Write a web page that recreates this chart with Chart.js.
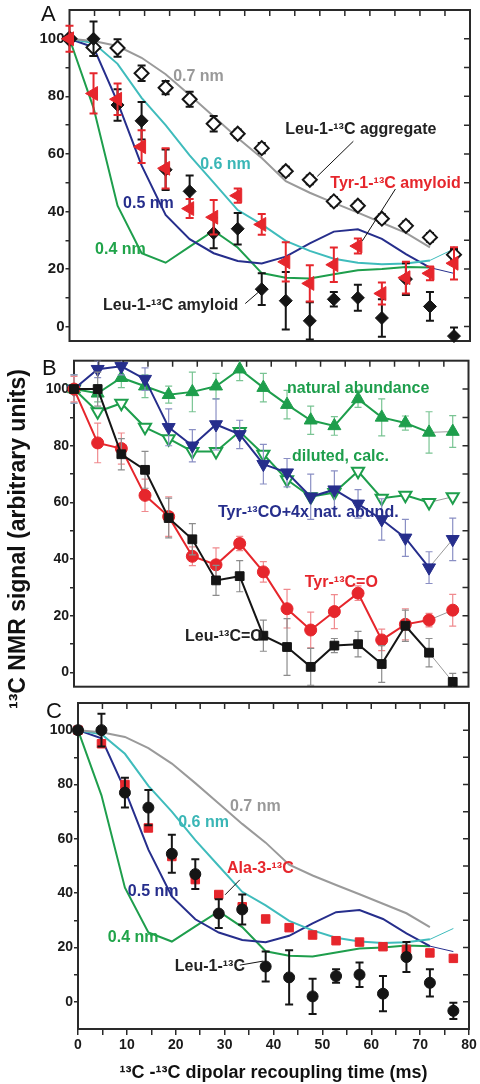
<!DOCTYPE html>
<html><head><meta charset="utf-8">
<script src="https://cdn.jsdelivr.net/npm/chart.js@4.4.1/dist/chart.umd.min.js"></script>
<style>
html,body{margin:0;padding:0;background:#fff;}
#wrap{position:relative;width:480px;height:1084px;}
canvas{position:absolute;left:0;top:0;}
</style></head><body>
<div id="wrap">
<canvas id="cA" width="480" height="1084"></canvas>
<canvas id="cB" width="480" height="1084"></canvas>
<canvas id="cC" width="480" height="1084"></canvas>
</div>
<script>
// ---------- data ----------
const timeMs = [0,4.8,9.6,14.4,19.2,24,28.8,33.6,38.4,43.2,48,52.8,57.6,62.4,67.2,72,76.8];
const leuAmyloid = [100,100,77,71.5,54.5,47,32.5,34,13,9,2,9.5,10,3,16.5,7,-3.3];
const leuErr     = [0,6,5.5,6.5,7,5.5,5.3,5.5,5.5,10,6.5,2.5,4.5,6.5,5.5,5,3];
const tyrAmyloid = [100,81,79,62.5,55,41,38,45.5,35.5,22.5,15,21.5,28,11.5,17,18.5,22];
const tyrErr     = [4.5,7,5.5,5.7,7,3.3,6,2.5,3.6,6.8,6.3,6,2.6,3.8,5.5,2.4,5.6];
const leuAggregate = [100,97,96.8,88,83,79,70.5,67,62,54,51,43.5,42,37.5,35,31,25];
const aggErr       = [0,3,3,2.7,2.3,2.6,2.7,1.5,1.8,1.5,1.5,1.5,1.5,1.5,1.5,1.5,2];
const sim07nm = [100,99.2,97.5,93.4,87.7,80.5,73,65.5,58.6,50.5,46.5,43,39.6,36.1,32.6,27.5,null];
const sim06nm = [100,98.5,91.3,79.5,70,59.5,50,40.5,35.5,29.8,26.3,23.6,22.2,21.7,21.9,23,27];
const sim05nm = [100,97,78,56,38.8,30.4,25.5,22.8,21.9,24.3,28.9,33,33.8,30.5,25.2,20.5,18.5];
const sim04nm = [100,76,42,25.5,22.2,27.8,33.3,27.5,18.6,17,16.7,18.2,19.6,20,20.7,20.5,null];
const natAbund    = [100,98.5,104,101,98,99,101,107,100.5,94.5,89,87,96.5,90,88,84.7,85];
const natErr      = [5,3,3.5,4,3,7,4.5,4,5,5,5,3.3,3,6.5,2.5,7.3,5.6];
const dilutedCalc = [100,92,95,86.5,82.5,78,78,85,77,68,62,63.5,71,61.5,62.5,60,62];
const tyrPlusNat  = [100,107,108,103.5,86.5,80,87.5,84,73.5,70.5,62,64.5,59.5,54,47.5,37,47];
const tyrPlusErr  = [5,3,3,4,6.5,5.7,9,5,7,5,8,6.6,5,7.3,6.5,5.6,7.5];
const alaData     = [100,95,80,64,53.5,45,39.5,35,30.5,27.3,24.6,22.5,22,20.3,19.3,18,16];
const yTicks = [0,10,20,30,40,50,60,70,80,90,100];
const xTicks = [0,5,10,15,20,25,30,35,40,45,50,55,60,65,70,75,80];

const FONT = '"Liberation Sans", Arial, Helvetica, sans-serif';
const C_GRAY='#9a9a9a', C_CYAN='#3fbcbc', C_NAVY='#262e8c', C_GREEN='#1e9e4c', C_RED='#e6262c', C_BLACK='#151515';

const pts = vals => timeMs.map((t,i)=>({x:t,y:vals[i]}));

// ---------- plugins ----------
const errPlugin = {
  id:'errbars',
  beforeDatasetDraw(chart,args){
    const ds = chart.data.datasets[args.index];
    if(!ds.errors) return;
    const xs=chart.scales.x, ys=chart.scales.y, ca=chart.chartArea, ctx=chart.ctx;
    ctx.save();
    ctx.beginPath(); ctx.rect(ca.left-12, ca.top, ca.right-ca.left+24, ca.bottom-ca.top); ctx.clip();
    ctx.strokeStyle = ds.errColor; ctx.lineWidth = ds.errWidth;
    const c = ds.errCap;
    ds.data.forEach((p,i)=>{
      const e = ds.errors[i]; if(!e || p.y==null) return;
      const x=xs.getPixelForValue(p.x), y1=ys.getPixelForValue(p.y+e), y2=ys.getPixelForValue(p.y-e);
      ctx.beginPath();
      ctx.moveTo(x,y1); ctx.lineTo(x,y2);
      ctx.moveTo(x-c,y1); ctx.lineTo(x+c,y1);
      ctx.moveTo(x-c,y2); ctx.lineTo(x+c,y2);
      ctx.stroke();
    });
    ctx.restore();
  }
};
const framePlugin = {
  id:'frame',
  beforeDatasetsDraw(chart){
    const {ctx, chartArea:ca} = chart, xs=chart.scales.x, ys=chart.scales.y;
    ctx.save();
    ctx.strokeStyle='#2a2a2a'; ctx.lineWidth=2;
    ctx.strokeRect(ca.left, ca.top, ca.right-ca.left, ca.bottom-ca.top);
    ctx.lineWidth=1.5;
    ctx.beginPath();
    xTicks.slice(1,-1).forEach(t=>{const x=xs.getPixelForValue(t); ctx.moveTo(x,ca.top); ctx.lineTo(x,ca.top+6);});
    yTicks.forEach(v=>{const y=ys.getPixelForValue(v); ctx.moveTo(ca.right,y); ctx.lineTo(ca.right-6,y);});
    ctx.stroke();
    ctx.restore();
  }
};
function notesPlugin(notes, lines, extra){
  return {
    id:'notes',
    afterDraw(chart){
      const ctx=chart.ctx, xs=chart.scales.x, ys=chart.scales.y;
      ctx.save();
      ctx.strokeStyle='#111'; ctx.lineWidth=1;
      lines.forEach(l=>{ctx.beginPath(); ctx.moveTo(xs.getPixelForValue(l[0]),ys.getPixelForValue(l[1])); ctx.lineTo(xs.getPixelForValue(l[2]),ys.getPixelForValue(l[3])); ctx.stroke();});
      ctx.textAlign='left'; ctx.textBaseline='middle';
      notes.forEach(n=>{ctx.font='bold 16px '+FONT; ctx.fillStyle=n.c; ctx.fillText(n.t, xs.getPixelForValue(n.x), ys.getPixelForValue(n.y));});
      if(extra) extra(ctx);
      ctx.restore();
    }
  };
}
function panelLetter(letter,x,y){ return ctx=>{ctx.font='22px '+FONT; ctx.fillStyle='#111'; ctx.textAlign='left'; ctx.textBaseline='alphabetic'; ctx.fillText(letter,x,y);}; }

function yScale(width,fs){
  return {
    type:'linear', min:-5, max:110,
    afterBuildTicks: a=>{a.ticks = yTicks.map(v=>({value:v}));},
    afterFit: s=>{s.width=width;},
    ticks:{autoSkip:false, callback:v=> v%20===0 ? String(v) : '', color:'#1a1a1a', font:{family:FONT,size:fs||14,weight:'bold'}, padding:1},
    grid:{display:true, drawOnChartArea:false, drawTicks:true, tickLength:4, color:'#2a2a2a', lineWidth:1.5},
    border:{display:false}
  };
}
const baseOpts = (pad, scales) => ({
  responsive:false, animation:false, devicePixelRatio:1, events:[],
  layout:{padding:pad},
  plugins:{legend:{display:false}, tooltip:{enabled:false}},
  scales
});
const sim = (vals,color,label,thinLast) => ({
  label, data:pts(vals), showLine:true, borderColor:color, borderWidth:2, pointRadius:0, order:10, clip:false,
  segment: thinLast ? {borderWidth: c=> c.p1DataIndex===timeMs.length-1 ? 1 : 2} : undefined
});
const simSets = () => [
  sim(sim07nm,C_GRAY,'0.7 nm',false),
  sim(sim06nm,C_CYAN,'0.6 nm',true),
  sim(sim05nm,C_NAVY,'0.5 nm',true),
  sim(sim04nm,C_GREEN,'0.4 nm',false)
];

// ---------- Panel A ----------
new Chart(document.getElementById('cA'), {
  type:'scatter',
  data:{datasets:[
    {label:'Leu-1-13C aggregate', data:pts(leuAggregate), pointStyle:'rectRot', pointRadius:7, backgroundColor:'#fff', borderColor:C_BLACK, borderWidth:2, order:3, clip:false,
     errors:aggErr, errColor:C_BLACK, errWidth:2, errCap:4},
    {label:'Leu-1-13C amyloid', data:pts(leuAmyloid), pointStyle:'rectRot', pointRadius:6.5, backgroundColor:C_BLACK, borderColor:C_BLACK, borderWidth:1, order:2, clip:false,
     errors:leuErr, errColor:C_BLACK, errWidth:2, errCap:4},
    {label:'Tyr-1-13C amyloid', data:pts(tyrAmyloid), pointStyle:'triangle', rotation:270, pointRadius:8, backgroundColor:C_RED, borderColor:C_RED, borderWidth:1, order:1, clip:false,
     errors:tyrErr, errColor:C_RED, errWidth:2, errCap:4},
    ...simSets()
  ]},
  options: baseOpts({left:0,right:10,top:7.3,bottom:743}, {
    x:{type:'linear',min:0,max:80,display:false},
    y:yScale(69.5,15)
  }),
  plugins:[framePlugin, errPlugin, notesPlugin([
    {t:'0.7 nm', x:20.7, y:86.9, c:'#999'},
    {t:'0.6 nm', x:26.1, y:56.4, c:'#3ab6b6'},
    {t:'0.5 nm', x:10.7, y:42.6, c:C_NAVY},
    {t:'0.4 nm', x:5.1, y:26.6, c:'#20a44a'},
    {t:'Leu-1-\u00B9\u00B3C aggregate', x:43.1, y:68.5, c:'#222'},
    {t:'Tyr-1-\u00B9\u00B3C amyloid', x:52.1, y:49.8, c:C_RED},
    {t:'Leu-1-\u00B9\u00B3C amyloid', x:6.7, y:7.3, c:'#222'}
  ],[
    [56.7,64.4,49.5,52.2],
    [65.1,47.8,58.5,29.8],
    [35.1,8,38.5,13.1]
  ], panelLetter('A',41,21))]
});

// ---------- Panel B ----------
const dataLine = (vals,label,style,rot,r,fill,color,errs,errColor,order) => ({
  label, data:pts(vals), showLine:true, borderColor:color, borderWidth:2,
  pointStyle:style, rotation:rot, pointRadius:r, pointBackgroundColor:fill, pointBorderColor:color, pointBorderWidth:fill==='#fff'?2:1,
  order, clip:false,
  segment:{borderWidth:c=> c.p1DataIndex===timeMs.length-1 ? 1 : 2, borderColor:c=> c.p1DataIndex===timeMs.length-1 ? '#999' : color},
  errors:errs, errColor, errWidth:1.2, errCap:3.5
});
new Chart(document.getElementById('cB'), {
  type:'scatter',
  data:{datasets:[
    dataLine(natAbund,'natural abundance','triangle',0,7.5,C_GREEN,C_GREEN,natErr,'#79c493',5),
    dataLine(dilutedCalc,'diluted, calc.','triangle',180,7,'#fff',C_GREEN,null,null,4),
    dataLine(tyrPlusNat,'Tyr-13CO+4x nat. abund.','triangle',180,7.5,C_NAVY,C_NAVY,tyrPlusErr,'#8a8fc4',3),
    dataLine(tyrAmyloid,'Tyr-13C=O','circle',0,6,C_RED,C_RED,tyrErr,'#f08a8e',2),
    dataLine(leuAmyloid,'Leu-13C=O','rect',0,6.2,C_BLACK,C_BLACK,leuErr,'#8c8c8c',1)
  ]},
  options: baseOpts({left:0,right:11.5,top:360.7,bottom:397.3}, {
    x:{type:'linear',min:0,max:80,display:false},
    y:yScale(74)
  }),
  plugins:[framePlugin, errPlugin, notesPlugin([
    {t:'natural abundance', x:43.2, y:100.1, c:C_GREEN},
    {t:'diluted, calc.', x:44.2, y:76.2, c:C_GREEN},
    {t:'Tyr-\u00B9\u00B3CO+4x nat. abund.', x:29.2, y:56.4, c:C_NAVY},
    {t:'Tyr-\u00B9\u00B3C=O', x:46.8, y:31.8, c:C_RED},
    {t:'Leu-\u00B9\u00B3C=O', x:22.5, y:12.8, c:'#222'}
  ],[], ctx=>{
    panelLetter('B',42,375)(ctx);
    ctx.save();
    ctx.translate(19,539); ctx.rotate(-Math.PI/2);
    ctx.font='bold 23px '+FONT; ctx.fillStyle='#111'; ctx.textAlign='center'; ctx.textBaseline='middle';
    ctx.fillText('\u00B9\u00B3C NMR signal (arbitrary units)',0,0);
    ctx.restore();
  })]
});

// ---------- Panel C ----------
new Chart(document.getElementById('cC'), {
  type:'scatter',
  data:{datasets:[
    {label:'Leu-1-13C', data:pts(leuAmyloid), pointStyle:'circle', pointRadius:5.5, backgroundColor:C_BLACK, borderColor:C_BLACK, borderWidth:1, order:1, clip:false,
     errors:leuErr, errColor:C_BLACK, errWidth:2, errCap:4},
    {label:'Ala-3-13C', data:pts(alaData), pointStyle:'rect', pointRadius:6, backgroundColor:C_RED, borderColor:C_RED, borderWidth:1, order:2, clip:false},
    ...simSets()
  ]},
  options: baseOpts({left:0,right:11,top:703,bottom:0}, {
    x:{type:'linear',min:0,max:80,
       afterBuildTicks:a=>{a.ticks = xTicks.map(v=>({value:v}));},
       afterFit:s=>{s.height=55;},
       ticks:{autoSkip:false, maxRotation:0, callback:v=> v%10===0 ? String(v) : '', color:'#1a1a1a', font:{family:FONT,size:14,weight:'bold'}, padding:2},
       grid:{display:true, drawOnChartArea:false, drawTicks:true, tickLength:6, color:'#2a2a2a', lineWidth:1.5},
       border:{display:false},
       title:{display:true, text:'\u00B9\u00B3C -\u00B9\u00B3C dipolar recoupling time (ms)', color:'#111', font:{family:FONT,size:18,weight:'bold'}, padding:{top:0,bottom:0}}
    },
    y:Object.assign(yScale(78), {min:-10, max:110})
  }),
  plugins:[framePlugin, errPlugin, notesPlugin([
    {t:'0.7 nm', x:31.1, y:71.8, c:'#999'},
    {t:'0.6 nm', x:20.5, y:65.9, c:'#3ab6b6'},
    {t:'0.5 nm', x:10.2, y:40.5, c:C_NAVY},
    {t:'0.4 nm', x:6.1, y:23.5, c:'#20a44a'},
    {t:'Ala-3-\u00B9\u00B3C', x:30.5, y:49, c:C_RED},
    {t:'Leu-1-\u00B9\u00B3C', x:19.8, y:12.8, c:'#222'}
  ],[
    [33.1,44.9,30.1,39.4],
    [33.1,13.5,37.9,15]
  ], panelLetter('C',46,718))]
});
</script>
</body></html>
